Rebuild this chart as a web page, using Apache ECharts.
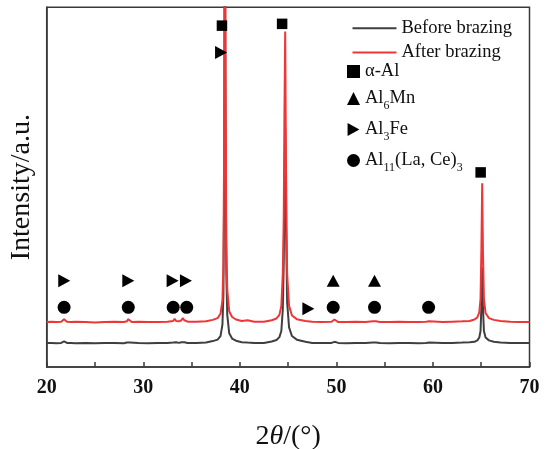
<!DOCTYPE html>
<html>
<head>
<meta charset="utf-8">
<script src="https://cdn.jsdelivr.net/npm/echarts@6/dist/echarts.min.js"></script>
<style>
  html, body { margin: 0; padding: 0; background: #fff; }
  #chart { width: 550px; height: 449px; }
</style>
</head>
<body>
<div id="chart"></div>
<script>
// 2θ positions (degrees)
const twoTheta = [
    20.0, 20.5, 21.0, 21.5, 21.7, 21.8, 21.9, 22.1, 22.5, 23.0,
    24.0, 25.0, 26.0, 27.0, 28.0, 28.3, 28.45, 28.6, 28.8, 29.5,
    30.5, 31.5, 32.5, 33.1, 33.25, 33.4, 33.7, 33.95, 34.1, 34.25,
    34.6, 35.5, 36.5, 37.2, 37.7, 38.0, 38.2, 38.3, 38.38, 38.45,
    38.52, 38.6, 38.7, 38.9, 39.2, 39.6, 40.2, 40.8, 41.0, 41.5,
    42.5, 43.3, 43.8, 44.1, 44.3, 44.45, 44.55, 44.62, 44.7, 44.78,
    44.9, 45.1, 45.4, 45.9, 46.8, 47.5, 48.5, 49.5, 49.7, 49.8,
    49.9, 50.2, 51.0, 52.0, 53.0, 53.8, 53.95, 54.1, 54.5, 55.5,
    56.5, 57.5, 58.5, 59.3, 59.45, 59.6, 59.8, 61.0, 62.0, 63.0,
    63.8, 64.3, 64.6, 64.8, 64.93, 65.02, 65.1, 65.18, 65.28, 65.45,
    65.8, 66.3, 67.0, 68.0, 69.0, 70.0
]
// intensities (a.u.)
const beforeBrazing = [
    67, 67, 66, 67, 69, 71, 69, 67, 67, 66,
    67, 66, 67, 67, 66, 68, 71, 68, 67, 67,
    66, 67, 67, 68, 71, 69, 67, 69, 73, 69,
    67, 67, 68, 72, 76, 86, 118, 200, 500, 1350,
    680, 260, 145, 94, 79, 73, 69, 68, 68, 67,
    67, 71, 75, 83, 100, 160, 290, 500, 667, 400,
    180, 110, 86, 76, 70, 67, 67, 67, 68, 70,
    68, 67, 66, 67, 67, 68, 70, 68, 67, 66,
    67, 67, 66, 67, 70, 68, 67, 67, 67, 68,
    69, 70, 74, 82, 100, 170, 278, 165, 100, 82,
    74, 70, 68, 67, 67, 67
]
const afterBrazing = [
    125, 126, 125, 126, 129, 133, 129, 126, 125, 126,
    125, 124, 125, 126, 125, 127, 133, 128, 125, 126,
    125, 125, 126, 128, 134, 128, 127, 130, 136, 130,
    126, 126, 127, 131, 136, 148, 185, 285, 625, 1575,
    825, 355, 215, 155, 139, 132, 128, 130, 129, 126,
    126, 130, 135, 145, 170, 260, 420, 700, 933, 560,
    260, 170, 143, 133, 128, 126, 125, 126, 128, 132,
    128, 125, 125, 126, 125, 127, 132, 127, 125, 125,
    126, 125, 125, 126, 131, 127, 125, 125, 126, 127,
    128, 132, 138, 152, 190, 330, 511, 320, 190, 150,
    136, 131, 128, 126, 125, 125
]

// phase markers
const phaseNames = ['α-Al', 'Al6Mn', 'Al3Fe', 'Al11(La, Ce)3']
const alX = [38.15, 44.38, 64.94]
const alY = [949, 954, 541]
const al6mnX = [49.67, 53.95]
const al6mnY = [240, 240]
const al3feX = [38.06, 21.82, 28.45, 33.04, 34.42, 47.1]
const al3feY = [874, 240, 240, 240, 240, 162]
const al11X = [21.8, 28.45, 33.1, 34.5, 49.67, 53.95, 59.55]
const al11Y = [166, 166, 166, 166, 166, 166, 166]

const xTicks = [20, 30, 40, 50, 60, 70]

const FONT = "'Times New Roman', 'Liberation Serif', serif"

function pairs(xs, ys){
    return xs.map((x, i) => [x, ys[i]])
}

function richName(name){
    // subscripts for the phase names
    switch(name){
        case 'Al6Mn': return '{n|Al}{s|6}{n|Mn}'
        case 'Al3Fe': return '{n|Al}{s|3}{n|Fe}'
        case 'Al11(La, Ce)3': return '{n|Al}{s|11}{n|(La, Ce)}{s|3}'
        default: return '{n|' + name + '}'
    }
}

const chart = echarts.init(document.getElementById('chart'))
const option = {
    animation: false,
    backgroundColor: '#fff',
    grid: {
        left: 46.7,
        right: 20.5,
        top: 7.3,
        bottom: 82,
        outerBoundsMode: 'none',
        containLabel: false,
        show: true,
        borderColor: '#3a3a3a',
        borderWidth: 1.5
    },
    legend: [{
        data: [
            { name: 'Before brazing', icon: 'rect' },
            { name: 'After brazing', icon: 'rect' }
        ],
        orient: 'vertical',
        left: 352.5,
        top: 18.7,
        padding: 0,
        itemWidth: 44,
        itemHeight: 2,
        itemGap: 5.3,
        textStyle: { fontFamily: FONT, fontSize: 18.5, color: '#111', lineHeight: 18 }
    }, {
        data: phaseNames,
        orient: 'vertical',
        left: 347,
        top: 62,
        padding: 0,
        itemWidth: 13,
        itemHeight: 13,
        itemGap: 8,
        formatter: richName,
        textStyle: {
            color: '#111',
            rich: {
                n: { fontFamily: FONT, fontSize: 18.5, color: '#111', lineHeight: 21 },
                s: { fontFamily: FONT, fontSize: 12, color: '#111', lineHeight: 21, verticalAlign: 'bottom', padding: [0, 0, -3, 0] }
            }
        }
    }],
    xAxis: {
        type: 'value',
        min: 20,
        max: 70,
        interval: 10,
        name: '{a|2}{i|θ}{a|/(°)}',
        nameLocation: 'middle',
        nameGap: 56,
        nameTextStyle: {
            rich: {
                a: { fontFamily: FONT, fontSize: 28, color: '#111' },
                i: { fontFamily: FONT, fontSize: 28, fontStyle: 'italic', color: '#111' }
            }
        },
        axisLine: { lineStyle: { color: '#3a3a3a', width: 1.5 } },
        axisTick: { inside: true, length: 5, lineStyle: { color: '#3a3a3a', width: 1.5 } },
        minorTick: { show: true, splitNumber: 2, length: 5, lineStyle: { color: '#3a3a3a', width: 1.5 } },
        axisLabel: {
            margin: 11,
            fontFamily: FONT,
            fontSize: 20,
            fontWeight: 'bold',
            color: '#111',
            formatter: v => xTicks.indexOf(v) != -1 ? String(v) : ''
        },
        splitLine: { show: false }
    },
    yAxis: {
        type: 'value',
        min: 0,
        max: 1000,
        name: 'Intensity/a.u.',
        nameLocation: 'middle',
        nameGap: 11,
        nameTextStyle: { fontFamily: FONT, fontSize: 28, color: '#111' },
        axisLine: { show: true, lineStyle: { color: '#3a3a3a', width: 1.5 } },
        axisTick: { show: false },
        axisLabel: { show: false },
        splitLine: { show: false }
    },
    series: [{
        name: 'Before brazing',
        type: 'line',
        symbol: 'none',
        data: pairs(twoTheta, beforeBrazing),
        lineStyle: { color: '#3f3f3f', width: 2 },
        itemStyle: { color: '#3f3f3f' },
        z: 2
    }, {
        name: 'After brazing',
        type: 'line',
        symbol: 'none',
        data: pairs(twoTheta, afterBrazing),
        lineStyle: { color: '#ee3636', width: 2 },
        itemStyle: { color: '#ee3636' },
        z: 3
    }, {
        name: 'α-Al',
        type: 'scatter',
        symbol: 'rect',
        symbolSize: 10.5,
        data: pairs(alX, alY),
        itemStyle: { color: '#000', opacity: 1 },
        z: 5
    }, {
        name: 'Al6Mn',
        type: 'scatter',
        symbol: 'triangle',
        symbolSize: [13, 12],
        data: pairs(al6mnX, al6mnY),
        itemStyle: { color: '#000', opacity: 1 },
        z: 5
    }, {
        name: 'Al3Fe',
        type: 'scatter',
        symbol: 'path://M0,0L10,5.5L0,11Z',
        symbolSize: [12, 13],
        data: pairs(al3feX, al3feY),
        itemStyle: { color: '#000', opacity: 1 },
        z: 5
    }, {
        name: 'Al11(La, Ce)3',
        type: 'scatter',
        symbol: 'circle',
        symbolSize: 13,
        data: pairs(al11X, al11Y),
        itemStyle: { color: '#000', opacity: 1 },
        z: 5
    }]
}
chart.setOption(option)
</script>
</body>
</html>
